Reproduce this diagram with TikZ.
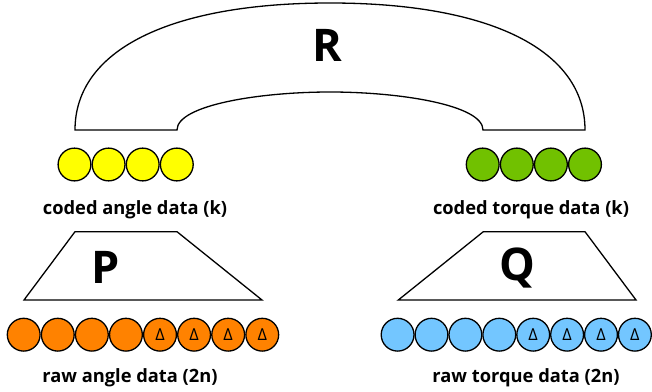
\documentclass[tikz,border=0pt]{standalone}
\usepackage{fontspec}
\setmainfont{Open Sans}
\definecolor{yel}{HTML}{FFFF00}
\definecolor{grn}{HTML}{71C100}
\definecolor{org}{HTML}{FF8200}
\definecolor{blu}{HTML}{73C6FF}
\begin{document}
\begin{tikzpicture}[x=1pt,y=-1pt,
  bead/.style={circle,draw=black,line width=1.3pt,minimum size=32.8pt,inner sep=0pt,font=\fontsize{16.5}{16.5}\selectfont},
  lbl/.style={font=\bfseries\fontsize{18.3}{20}\selectfont},
  big/.style={font=\bfseries\fontsize{45}{45}\selectfont},
  shp/.style={draw=black,line width=1.3pt,fill=white}]
\useasboundingbox (0,0) rectangle (652,391);
% top shape R
\draw[shp] (75,130) .. controls (75,50) and (170,3) .. (330,3)
  .. controls (490,3) and (585,50) .. (585,130) -- (483,130)
  .. controls (483,105) and (400,92) .. (330,92)
  .. controls (260,92) and (177,105) .. (177,130) -- cycle;
\node[big] (R) at (327,45) {R};
% coded beads
\foreach \i in {0,...,3} {
  \node[bead,fill=yel] (y\i) at ({74.5+34.1*\i},164.5) {};
  \node[bead,fill=grn] (g\i) at ({482.7+34.1*\i},164.5) {};
}
\node[lbl] (ca) at (135,210) {coded angle data (k)};
\node[lbl] (ct) at (531,210) {coded torque data (k)};
% trapezoids
\draw[shp] (75,231.7) -- (177,231.7) -- (262,300) -- (24,300) -- cycle;
\node[big] (P) at (106,267) {P};
\draw[shp] (483.3,231.7) -- (585,231.7) -- (636,300) -- (398.3,300) -- cycle;
\node[big] (Q) at (517,268) {Q};
% raw beads
\foreach \i in {0,...,3} {
  \node[bead,fill=org] (o\i) at ({23.7+34.08*\i},334.7) {};
  \node[bead,fill=blu] (b\i) at ({397.6+33.9*\i},334.7) {};
}
\foreach \i in {4,...,7} {
  \node[bead,fill=org] (o\i) at ({23.7+34.08*\i},334.7) {Δ};
  \node[bead,fill=blu] (b\i) at ({397.6+33.9*\i},334.7) {Δ};
}
\node[lbl] (ra) at (130,378) {raw angle data (2n)};
\node[lbl] (rt) at (526,378) {raw torque data (2n)};
\end{tikzpicture}
\end{document}
